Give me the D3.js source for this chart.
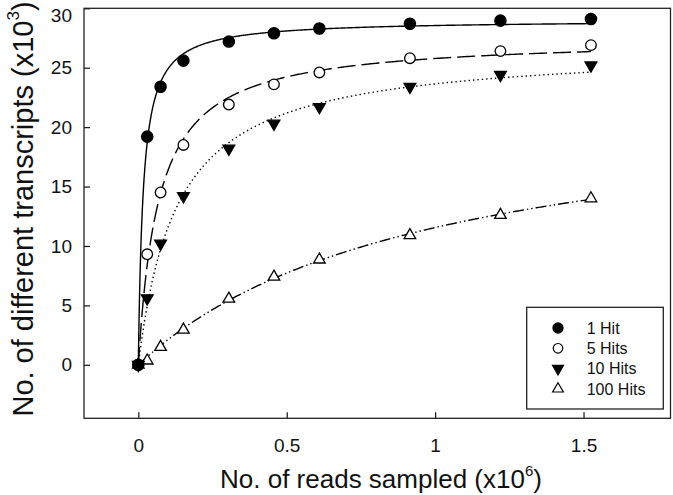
<!DOCTYPE html>
<html>
<head>
<meta charset="utf-8">
<script src="https://cdn.jsdelivr.net/npm/d3@7"></script>
<style>
  body { margin: 0; background: #fff; }
  svg text { font-family: "Liberation Sans", Arial, sans-serif; fill: #111; }
</style>
</head>
<body>
<div class="chartDiv"></div>
<script>
// reads sampled (x10^6) and transcripts found (x10^3)
var readsSampled = [0, 0.03, 0.075, 0.152, 0.305, 0.457, 0.61, 0.915, 1.22, 1.525];
var hits1   = [0, 19.2, 23.4, 25.6, 27.2, 27.9, 28.3, 28.7, 28.96, 29.1];
var hits5   = [0, 9.3, 14.5, 18.5, 21.9, 23.6, 24.6, 25.8, 26.4, 26.9];
var hits10  = [0, 5.6, 10.2, 14.2, 18.2, 20.3, 21.7, 23.4, 24.4, 25.2];
var hits100 = [0, 0.35, 1.5, 2.95, 5.55, 7.4, 8.85, 10.9, 12.6, 14.0];
var seriesNames = ["1 Hit", "5 Hits", "10 Hits", "100 Hits"];
var xTicks = [0, 0.5, 1, 1.5];
var yTicks = [0, 5, 10, 15, 20, 25, 30];

var width = 673, height = 495;
var plot = {left: 84, right: 670.5, top: 8.3, bottom: 418.3};

var svg = d3.select('div.chartDiv').append('svg')
  .attr('width', width).attr('height', height);

var xScale = d3.scaleLinear().domain([-0.183, 1.793]).range([plot.left, plot.right]);
var yScale = d3.scaleLinear().domain([-4.5, 30]).range([plot.bottom, plot.top]);

// marker / line look for each series
var styles = [
  {values: hits1,   dash: null,            symbol: d3.symbolCircle,   size: 100, fill: "#000", rot: 0},
  {values: hits5,   dash: "18,6",          symbol: d3.symbolCircle,   size: 88,  fill: "#fff", rot: 0},
  {values: hits10,  dash: "1.4,3",         symbol: d3.symbolTriangle, size: 60,  fill: "#000", rot: 180},
  {values: hits100, dash: "11,3,1.4,3,1.4,3", symbol: d3.symbolTriangle, size: 58, fill: "#fff", rot: 0}
];

// fit y = a*x/(b+x) (two parameter hyperbola) to each series by least squares
function fitHyperbola(xs, ys) {
  var best = null;
  function score(b) {
    var sfy = 0, sff = 0;
    xs.forEach(function(x, i) { var f = x / (b + x); sfy += f * ys[i]; sff += f * f; });
    var a = sfy / sff, err = 0;
    xs.forEach(function(x, i) { var r = ys[i] - a * x / (b + x); err += r * r; });
    return {a: a, b: b, err: err};
  }
  for (var lb = -5; lb <= 2; lb += 0.002) {
    var s = score(Math.pow(10, lb));
    if (!best || s.err < best.err) best = s;
  }
  return best;
}

var xMax = d3.max(readsSampled);
var curveXs = d3.range(0, 1.0001, 0.002).map(function(t) { return xMax * Math.pow(t, 2.5); });

var lineGen = d3.line()
  .x(function(d) { return xScale(d[0]); })
  .y(function(d) { return yScale(d[1]); });

styles.forEach(function(s) {
  var p = fitHyperbola(readsSampled, s.values);
  var pts = curveXs.map(function(x) { return [x, p.a * x / (p.b + x)]; });
  svg.append('path').attr('d', lineGen(pts))
    .attr('fill', 'none').attr('stroke', '#000').attr('stroke-width', 1.4)
    .attr('stroke-dasharray', s.dash);
});

// markers
styles.slice().reverse().forEach(function(s) {
  svg.append('g').selectAll('path').data(s.values).enter().append('path')
    .attr('d', d3.symbol().type(s.symbol).size(s.size))
    .attr('transform', function(d, i) {
      return 'translate(' + xScale(readsSampled[i]) + ',' + yScale(d) + ') rotate(' + s.rot + ')';
    })
    .attr('fill', s.fill).attr('stroke', '#000').attr('stroke-width', 1.3);
});

// axes with inward ticks
var xAxis = d3.axisBottom(xScale).tickValues(xTicks).tickSizeInner(-6).tickSizeOuter(0)
  .tickPadding(20).tickFormat(d3.format('~g'));
var gx = svg.append('g').attr('transform', 'translate(0,' + plot.bottom + ')').call(xAxis);
gx.select('.domain').remove();
gx.selectAll('text').attr('font-size', 19).attr('fill', '#111');

var yAxis = d3.axisLeft(yScale).tickValues(yTicks).tickSizeInner(-6).tickSizeOuter(0).tickPadding(12);
var gy = svg.append('g').attr('transform', 'translate(' + plot.left + ',0)').call(yAxis);
gy.select('.domain').remove();
gy.selectAll('text').attr('font-size', 19).attr('fill', '#111')
  .attr('dy', function(d) { return d === 30 ? '0.72em' : '0.32em'; });

svg.selectAll('.tick line').attr('stroke', '#111').attr('stroke-width', 1.2);

svg.append('rect')
  .attr('x', plot.left).attr('y', plot.top)
  .attr('width', plot.right - plot.left).attr('height', plot.bottom - plot.top)
  .attr('fill', 'none').attr('stroke', '#222').attr('stroke-width', 1.3);

// axis titles
var xt = svg.append('text').attr('x', 381).attr('y', 488)
  .attr('text-anchor', 'middle').attr('font-size', 26);
xt.append('tspan').text('No. of reads sampled (x10');
xt.append('tspan').attr('font-size', 15).attr('dy', -12).text('6');
xt.append('tspan').attr('dy', 12).text(')');

var yt = svg.append('text')
  .attr('transform', 'translate(33,' + 209 + ') rotate(-90)')
  .attr('text-anchor', 'middle').attr('font-size', 29);
yt.append('tspan').text('No. of different transcripts (x10');
yt.append('tspan').attr('font-size', 17).attr('dy', -14).text('3');
yt.append('tspan').attr('dy', 14).text(')');

// legend
var legend = svg.append('g');
legend.append('rect').attr('x', 526.7).attr('y', 307.3).attr('width', 136.6).attr('height', 101.7)
  .attr('fill', '#fff').attr('stroke', '#222').attr('stroke-width', 1.3);
var legendSizes = [80, 72, 52, 50];
seriesNames.forEach(function(name, i) {
  var cy = 328 + i * 20.3;
  legend.append('path')
    .attr('d', d3.symbol().type(styles[i].symbol).size(legendSizes[i]))
    .attr('transform', 'translate(558,' + cy + ') rotate(' + styles[i].rot + ')')
    .attr('fill', styles[i].fill).attr('stroke', '#000').attr('stroke-width', 1.2);
  legend.append('text').attr('x', 586.7).attr('y', cy + 5.8).attr('font-size', 16).text(name);
});
</script>
</body>
</html>
